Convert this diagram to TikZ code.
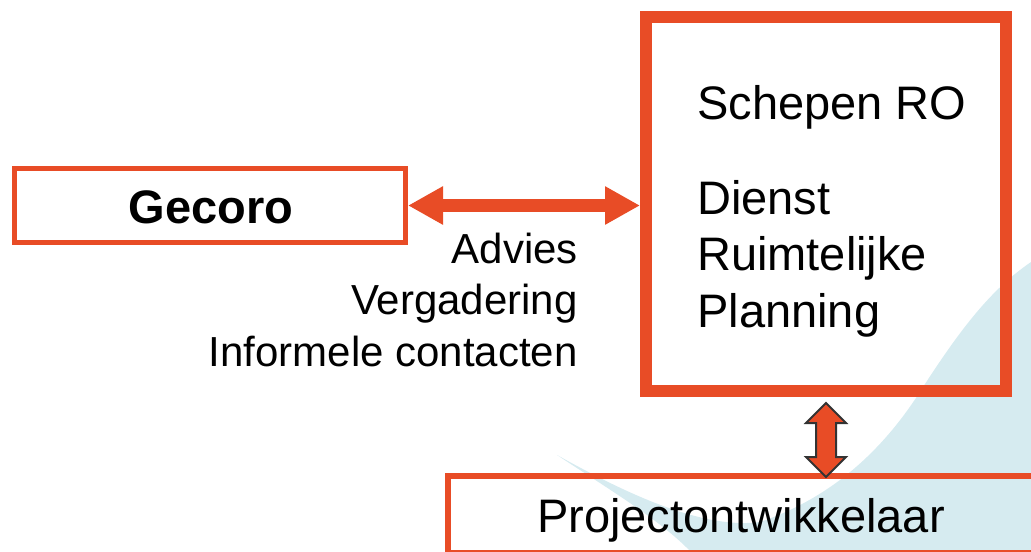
\documentclass[tikz,border=0pt]{standalone}
\usepackage{fontspec}
\setmainfont{Liberation Sans}
\usepackage{xcolor}
\usetikzlibrary{arrows.meta, positioning, calc}
\definecolor{oranjerood}{HTML}{E84C26}
\definecolor{lichtblauw}{HTML}{D6EBF0}

\begin{document}
\begin{tikzpicture}[x=0.75pt, y=-0.75pt,
    kader/.style={draw=oranjerood, rectangle, inner sep=0pt},
    groot/.style={font=\fontsize{35.25}{42}\selectfont, inner sep=0pt},
    klein/.style={font=\fontsize{31.5}{38}\selectfont, inner sep=0pt},
    pijl/.style={draw=oranjerood, line width=9.75pt,
        {Triangle[length=26.25pt, width=27pt]}-{Triangle[length=26.25pt, width=27pt]}},
    dubbelpijl/.style={fill=oranjerood, draw=black!80, line width=1.5pt, line join=miter}]
    \useasboundingbox (0,0) rectangle (1031,551);
    \clip (0,0) rectangle (1031,551);
    % achtergrond
    \fill[lichtblauw] (1031,262) .. controls (990,290) and (960,330) .. (923,387)
        .. controls (890,440) and (840,495) .. (760,522)
        .. controls (700,530) and (620,490) .. (557,455)
        .. controls (610,490) and (660,520) .. (690,551) -- (1031,551) -- cycle;
    % kaders
    \node[kader, line width=3.75pt, minimum width=293.25pt, minimum height=55.5pt] (gecoro) at (210,205.5) {};
    \node[kader, line width=9pt, minimum width=270pt, minimum height=280.5pt] (dienst) at (826,204) {};
    \node[kader, line width=4.5pt, minimum width=459pt, minimum height=57.75pt] (project) at (754,514.5) {};
    % verbindingen
    \draw[pijl] (gecoro.east) -- (gecoro.east -| dienst.west);
    \coordinate (boven) at ($(dienst.south)+(0,6)$);
    \coordinate (onder) at ($(dienst.south |- project.north)+(0,4)$);
    \draw[dubbelpijl] (boven) -- ++(20,20) -- ++(-10,0) -- ($(onder)+(10,-20)$) -- ++(10,0)
        -- (onder) -- ++(-20,-20) -- ++(10,0) -- ($(boven)+(-10,20)$) -- ++(-10,0) -- cycle;
    % teksten
    \node[groot, anchor=base] (gecorotxt) at (211,223) {\bfseries Gecoro};
    \node[groot, anchor=base west] (schepen) at (697,119) {Schepen RO};
    \node[groot, anchor=base west] (d1) at (697,214) {Dienst};
    \node[groot, anchor=base west] (d2) at (697,270) {Ruimtelijke};
    \node[groot, anchor=base west] (d3) at (697,327) {Planning};
    \node[klein, anchor=base east] (advies) at (578,263) {Advies};
    \node[klein, anchor=base east] (vergadering) at (578,314) {Vergadering};
    \node[klein, anchor=base east] (contacten) at (578,366) {Informele contacten};
    \node[groot, anchor=base west] (projecttxt) at (537,532) {Projectontwikkelaar};
\end{tikzpicture}
\end{document}
